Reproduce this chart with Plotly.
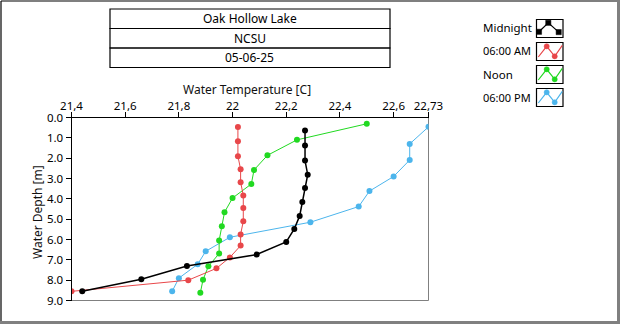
import plotly.graph_objects as go

W, H = 620, 324

# ---------------- data ----------------
series_names = ["Midnight", "06:00 AM", "Noon", "06:00 PM"]
series_colors = ["#000000", "#E8474A", "#21D921", "#4CB5EC"]

depth_midnight = [0.64, 1.38, 2.12, 2.81, 3.47, 4.15, 4.84, 5.48, 6.12, 6.74, 7.30, 7.95, 8.55]
temp_midnight = [22.27, 22.27, 22.27, 22.28, 22.27, 22.26, 22.25, 22.23, 22.20, 22.09, 21.83, 21.66, 21.44]

depth_0600am = [0.47, 1.17, 1.90, 2.55, 3.18, 3.83, 4.45, 5.10, 5.75, 6.30, 6.88, 7.42, 8.00, 8.55]
temp_0600am = [22.02, 22.02, 22.02, 22.03, 22.03, 22.04, 22.04, 22.04, 22.03, 22.03, 21.99, 21.94, 21.835, 21.40]

depth_noon = [0.31, 1.10, 1.86, 2.58, 3.27, 3.96, 4.66, 5.35, 6.05, 6.69, 7.32, 7.98, 8.62]
temp_noon = [22.50, 22.24, 22.13, 22.08, 22.07, 22.00, 21.97, 21.96, 21.95, 21.95, 21.91, 21.89, 21.88]

depth_0600pm = [0.46, 1.30, 2.09, 2.90, 3.62, 4.38, 5.15, 5.89, 6.58, 7.22, 7.90, 8.55]
temp_0600pm = [22.73, 22.66, 22.66, 22.60, 22.51, 22.47, 22.29, 21.99, 21.90, 21.87, 21.80, 21.775]

x_tick_vals = [21.4, 21.6, 21.8, 22.0, 22.2, 22.4, 22.6, 22.73]
x_tick_text = ["21,4", "21,6", "21,8", "22", "22,2", "22,4", "22,6", "22,73"]
y_tick_vals = [0, 1, 2, 3, 4, 5, 6, 7, 8, 9]
y_tick_text = ["0.0", "1.0", "2.0", "3.0", "4.0", "5.0", "6.0", "7.0", "8.0", "9.0"]

title_lines = ["Oak Hollow Lake", "NCSU", "05-06-25"]
x_title = "Water Temperature [C]"
y_title = "Water Depth [m]"

FONT = "Noto Sans"


def px(x):
    return x / W


def py(y):
    return 1 - y / H


# plot area in pixels
PL, PR, PT, PB = 71.5, 428.5, 117.5, 300.5

fig = go.Figure()

series = [
    (depth_0600pm, temp_0600pm, 3, 1.0),
    (depth_noon, temp_noon, 2, 1.0),
    (depth_0600am, temp_0600am, 1, 1.0),
    (depth_midnight, temp_midnight, 0, 1.5),
]
for d, t, idx, lw in series:
    fig.add_trace(go.Scatter(
        x=t, y=d, mode="lines+markers", name=series_names[idx],
        line=dict(color=series_colors[idx], width=lw),
        marker=dict(color=series_colors[idx], size=6, symbol="circle"),
        showlegend=False, cliponaxis=True,
    ))

shapes = []
annotations = []

# outer border
shapes.append(dict(type="line", xref="paper", yref="paper", x0=px(1), x1=px(1), y0=py(1), y1=py(321),
                   line=dict(color="#000000", width=1.2)))
shapes.append(dict(type="line", xref="paper", yref="paper", x0=px(1), x1=px(618), y0=py(1), y1=py(1),
                   line=dict(color="#000000", width=1.2)))
shapes.append(dict(type="line", xref="paper", yref="paper", x0=px(618.5), x1=px(618.5), y0=py(0), y1=py(324),
                   line=dict(color="#808080", width=3)))
shapes.append(dict(type="line", xref="paper", yref="paper", x0=px(0), x1=px(620), y0=py(322.5), y1=py(322.5),
                   line=dict(color="#808080", width=3)))

# plot frame (grey right/bottom)
shapes.append(dict(type="rect", xref="x domain", yref="y domain", x0=0, x1=1, y0=0, y1=1,
                   line=dict(color="#808080", width=1), layer="below"))

# title boxes
row_tops = [9, 28.5, 48]
row_h = 19.5
for i, txt in enumerate(title_lines):
    y0 = row_tops[i]
    y1 = y0 + row_h
    shapes.append(dict(type="rect", xref="paper", yref="paper", x0=px(110), x1=px(390),
                       y0=py(y1), y1=py(y0), line=dict(color="#000000", width=1.2)))
    annotations.append(dict(x=px(250), y=py((y0 + y1) / 2), xref="paper", yref="paper", text=txt,
                            showarrow=False, xanchor="center", yanchor="middle",
                            font=dict(family=FONT, size=12, color="#000000")))

# axis titles
annotations.append(dict(x=px(247), y=py(89), xref="paper", yref="paper", text=x_title, showarrow=False,
                        xanchor="center", yanchor="middle", font=dict(family=FONT, size=12, color="#111111")))
annotations.append(dict(x=px(37), y=py(212), xref="paper", yref="paper", text=y_title, showarrow=False,
                        textangle=-90, xanchor="center", yanchor="middle",
                        font=dict(family=FONT, size=12, color="#111111")))

# legend
leg_text_y = [27, 50.5, 74, 97]
box_tops = [19.5, 42.5, 65.5, 88.5]
for i, name in enumerate(series_names):
    col = series_colors[i]
    annotations.append(dict(x=px(481), y=py(leg_text_y[i]), xref="paper", yref="paper", text=name,
                            showarrow=False, xanchor="left", yanchor="middle",
                            font=dict(family=FONT, size=11.5 if i in (0, 2) else 11, color="#000000")))
    bt = box_tops[i]
    shapes.append(dict(type="rect", xref="paper", yref="paper", x0=px(536.5), x1=px(563),
                       y0=py(bt + 18), y1=py(bt), line=dict(color="#000000", width=1.2)))
    if i == 0:
        path_pts = [(539, bt + 12.3), (548.3, bt + 3.3), (558.7, bt + 12.6)]
        mk = path_pts
        sq = True
    else:
        path_pts = [(538.3, bt + 14.5), (546.7, bt + 3.8), (554.7, bt + 13.8), (562.3, bt + 2.8)]
        mk = [(546.7, bt + 3.8), (554.7, bt + 13.8)]
        sq = False
    path = "M " + " L ".join(f"{px(x):.5f},{py(y):.5f}" for x, y in path_pts)
    shapes.append(dict(type="path", xref="paper", yref="paper", path=path,
                       line=dict(color=col, width=1.2)))
    r = 2.6
    for (mx, my) in mk:
        shapes.append(dict(type="rect" if sq else "circle", xref="paper", yref="paper",
                           x0=px(mx - r), x1=px(mx + r), y0=py(my + r), y1=py(my - r),
                           fillcolor=col, line=dict(color=col, width=0.5)))

fig.update_layout(
    width=W, height=H,
    margin=dict(l=0, r=0, t=0, b=0, pad=0),
    paper_bgcolor="#ffffff", plot_bgcolor="#ffffff",
    shapes=shapes, annotations=annotations,
    font=dict(family=FONT, size=11, color="#000000"),
    xaxis=dict(
        domain=[px(PL), px(PR)], range=[21.4, 22.73], side="top",
        tickmode="array", tickvals=x_tick_vals, ticktext=x_tick_text,
        ticks="outside", ticklen=5, tickwidth=1, tickcolor="#000000",
        showline=True, linecolor="#000000", linewidth=1, mirror=False,
        showgrid=False, zeroline=False, automargin=False,
        ticklabelstandoff=-3,
        tickfont=dict(family=FONT, size=11.5, color="#000000"),
    ),
    yaxis=dict(
        domain=[py(PB), py(PT)], range=[9, 0],
        tickmode="array", tickvals=y_tick_vals, ticktext=y_tick_text,
        ticks="outside", ticklen=5, tickwidth=1, tickcolor="#000000",
        showline=True, linecolor="#000000", linewidth=1, mirror=False,
        showgrid=False, zeroline=False, automargin=False,
        tickfont=dict(family=FONT, size=11.5, color="#000000"),
    ),
)

fig.write_html("out.html")
